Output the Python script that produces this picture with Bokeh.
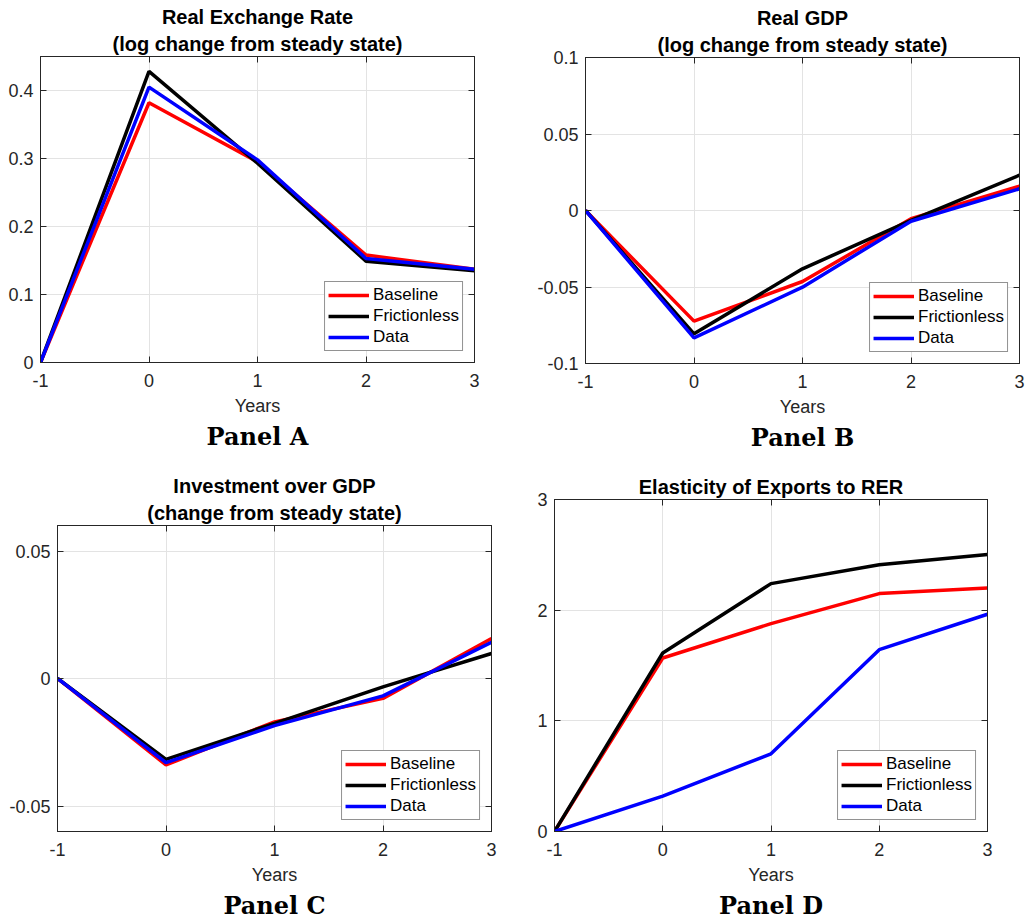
from bokeh.plotting import figure
from bokeh.models import Range1d, FixedTicker, LinearAxis, Title, Legend, LegendItem
from bokeh.layouts import column, row
from bokeh.embed import file_html
from bokeh.resources import INLINE

years = [-1, 0, 1, 2, 3]
series_names = ["Baseline", "Frictionless", "Data"]
series_colors = ["#ff0000", "#000000", "#0000ff"]

# Panel A: Real exchange rate
rer_baseline = [0.0, 0.382, 0.295, 0.158, 0.137]
rer_frictionless = [0.0, 0.428, 0.293, 0.149, 0.135]
rer_data = [0.0, 0.405, 0.298, 0.153, 0.137]
# Panel B: Real GDP
gdp_baseline = [0.0, -0.0723, -0.0464, -0.0054, 0.0159]
gdp_frictionless = [0.0, -0.0806, -0.0381, -0.0065, 0.0231]
gdp_data = [0.0, -0.0832, -0.0501, -0.0070, 0.0142]
# Panel C: Investment over GDP
inv_baseline = [0.0, -0.0339, -0.0170, -0.0078, 0.0157]
inv_frictionless = [0.0, -0.0317, -0.0176, -0.0033, 0.0098]
inv_data = [0.0, -0.0330, -0.0185, -0.0068, 0.0142]
# Panel D: Elasticity of exports to RER
ela_baseline = [0.0, 1.568, 1.878, 2.150, 2.200]
ela_frictionless = [0.0, 1.613, 2.240, 2.410, 2.502]
ela_data = [0.0, 0.320, 0.702, 1.643, 1.963]

x_ticks = [-1, 0, 1, 2, 3]
x_tick_labels = ["-1", "0", "1", "2", "3"]
a_ticks = [0, 0.1, 0.2, 0.3, 0.4]
a_tick_labels = ["0", "0.1", "0.2", "0.3", "0.4"]
b_ticks = [-0.1, -0.05, 0, 0.05, 0.1]
b_tick_labels = ["-0.1", "-0.05", "0", "0.05", "0.1"]
c_ticks = [-0.05, 0, 0.05]
c_tick_labels = ["-0.05", "0", "0.05"]
d_ticks = [0, 1, 2, 3]
d_tick_labels = ["0", "1", "2", "3"]

AX = "#262626"
GRID = "#e3e3e3"
SANS = "Liberation Sans"


def mirror_axis(ticks):
    return LinearAxis(ticker=FixedTicker(ticks=ticks),
                      major_label_overrides={t: "" for t in ticks},
                      major_label_text_color=None, major_label_text_font_size="1px",
                      major_tick_in=6, major_tick_out=0, minor_tick_line_color=None,
                      axis_line_color=AX, major_tick_line_color=AX, major_label_standoff=0)


def make_panel(title_lines, panel, ydata, yr, yticks, ylabels, w, h, borders):
    l, r, t, b = borders
    p = figure(width=w, height=h, x_range=Range1d(-1, 3), y_range=Range1d(*yr),
               output_backend="svg", toolbar_location=None, title=None,
               min_border_left=l, min_border_right=r, min_border_top=t, min_border_bottom=b)
    p.outline_line_color = AX
    p.outline_line_width = 1

    p.xaxis.ticker = FixedTicker(ticks=x_ticks)
    p.xaxis.major_label_overrides = dict(zip(x_ticks, x_tick_labels))
    p.yaxis.ticker = FixedTicker(ticks=yticks)
    p.yaxis.major_label_overrides = dict(zip(yticks, ylabels))
    p.xaxis.axis_label = "Years"
    for ax in (p.xaxis, p.yaxis):
        ax.major_tick_in = 6
        ax.major_tick_out = 0
        ax.minor_tick_line_color = None
        ax.axis_line_color = AX
        ax.major_tick_line_color = AX
        ax.major_label_text_font = SANS
        ax.major_label_text_font_size = "18px"
        ax.major_label_text_color = AX
        ax.axis_label_text_font = SANS
        ax.axis_label_text_font_size = "18px"
        ax.axis_label_text_font_style = "normal"
        ax.axis_label_text_color = AX
    p.xaxis.major_label_standoff = 11
    p.xaxis.axis_label_standoff = 6
    p.yaxis.major_label_standoff = 7

    p.add_layout(mirror_axis(yticks), "right")
    p.add_layout(mirror_axis(x_ticks), "above")
    for line in reversed(title_lines):
        p.add_layout(Title(text=line, align="center", text_font=SANS, text_font_size="20px",
                           text_font_style="bold", text_color="#000000", standoff=3), "above")

    p.xgrid.grid_line_color = GRID
    p.ygrid.grid_line_color = GRID
    p.xgrid.ticker = FixedTicker(ticks=x_ticks)
    p.ygrid.ticker = FixedTicker(ticks=yticks)

    items = []
    for name, col, ys in zip(series_names, series_colors, ydata):
        rline = p.line(years, ys, line_color=col, line_width=3.5)
        items.append(LegendItem(label=name, renderers=[rline]))
    leg = Legend(items=items, location="bottom_right")
    leg.label_text_font = SANS
    leg.label_text_font_size = "17px"
    leg.label_text_color = "#000000"
    leg.glyph_width = 41
    leg.glyph_height = 20
    leg.label_height = 20
    leg.label_standoff = 4
    leg.spacing = 1
    leg.padding = 3
    leg.margin = 11
    leg.border_line_color = AX
    leg.border_line_width = 1
    leg.background_fill_alpha = 1
    p.add_layout(leg)

    pt = Title(text=panel, align="center", text_font="DejaVu Serif", standoff=2,
               text_font_size="24px", text_font_style="bold", text_color="#000000")
    p.add_layout(pt, "below")
    return p


pA = make_panel(["Real Exchange Rate", "(log change from steady state)"], "Panel A",
                [rer_baseline, rer_frictionless, rer_data], (0, 0.45),
                a_ticks, a_tick_labels, 513, 460, (40, 39, 56, 98))
pB = make_panel(["Real GDP", "(log change from steady state)"], "Panel B",
                [gdp_baseline, gdp_frictionless, gdp_data], (-0.1, 0.1),
                b_ticks, b_tick_labels, 513, 460, (72, 7, 57, 97))
pC = make_panel(["Investment over GDP", "(change from steady state)"], "Panel C",
                [inv_baseline, inv_frictionless, inv_data], (-0.06, 0.06),
                c_ticks, c_tick_labels, 513, 463, (57, 22, 65, 92))
pD = make_panel(["Elasticity of Exports to RER"], "Panel D",
                [ela_baseline, ela_frictionless, ela_data], (0, 3),
                d_ticks, d_tick_labels, 513, 463, (41, 39, 39, 92))

layout = column(row(column(pA), column(pB)), row(column(pC), column(pD)))
open("out.html", "w").write(file_html(layout, INLINE))
